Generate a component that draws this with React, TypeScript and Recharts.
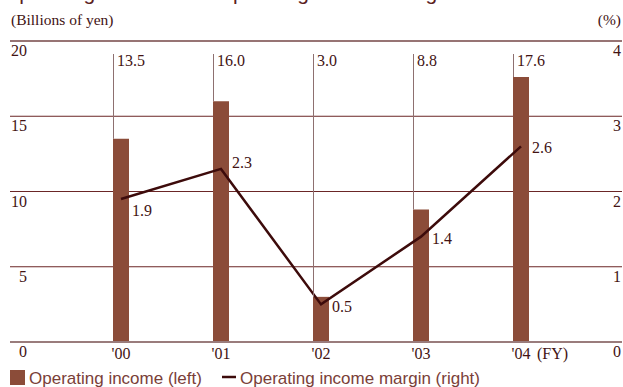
import React from "react";
import { Bar, CartesianGrid, ComposedChart, LabelList, Line, ReferenceLine, XAxis, YAxis } from "recharts";

const years = ["'00", "'01", "'02", "'03", "'04"];
const operatingIncome = [13.5, 16.0, 3.0, 8.8, 17.6];
const incomeMargin = [1.9, 2.3, 0.5, 1.4, 2.6];
const leftTicks = [0, 5, 10, 15, 20];
const rightTicks = [0, 1, 2, 3, 4];

const data = years.map((year, i) => ({ year, income: operatingIncome[i], margin: incomeMargin[i] }));

const W = 623;
const H = 387;
const serif = "'Liberation Serif', 'Times New Roman', serif";
const sans = "'Liberation Sans', Arial, sans-serif";
const ink = "#421313";
const barColor = "#8b4c39";
const lineColor = "#3d0b0b";
const legendInk = "#7a4038";

// vertical nudge for each margin label so it clears the line
const marginLabelDy = [11, -7, 2, 1, 1];

const renderLeftTick = (props: any) => (
  <text key={`l-${props.index}`} x={27} y={props.y + 15} textAnchor="end" fontFamily={serif} fontSize={16} fill={ink}>
    {props.payload.value}
  </text>
);

const renderRightTick = (props: any) => (
  <text key={`r-${props.index}`} x={621} y={props.y + 15} textAnchor="end" fontFamily={serif} fontSize={16} fill={ink}>
    {props.payload.value}
  </text>
);

const renderYearTick = (props: any) => {
  const { x, payload, index } = props;
  return (
    <g key={`x-${index}`}>
      <text x={x} y={359} textAnchor="middle" fontFamily={serif} fontSize={16} fill={ink}>
        {payload.value}
      </text>
      {index === years.length - 1 && (
        <text x={x + 16} y={359} fontFamily={serif} fontSize={16} fill={ink}>
          (FY)
        </text>
      )}
    </g>
  );
};

// leader line from the top row down to the bar, value written beside it
const IncomeLabel = (props: any) => {
  const { x, y, value } = props;
  return (
    <g>
      <line x1={x + 0.5} y1={54} x2={x + 0.5} y2={y} stroke="#8e7070" strokeWidth={1} />
      <text x={x + 4} y={66} fontFamily={serif} fontSize={16} fill={ink}>
        {Number(value).toFixed(1)}
      </text>
    </g>
  );
};

const MarginLabel = (props: any) => {
  const { x, y, value, index } = props;
  return (
    <text x={x + 11} y={y + 6 + marginLabelDy[index]} fontFamily={serif} fontSize={16} fill={ink}>
      {Number(value).toFixed(1)}
    </text>
  );
};

export default function App() {
  return (
    <div style={{ position: "absolute", left: 0, top: 0, width: W, height: H, background: "#fff" }}>
      <ComposedChart width={W} height={H} data={data} margin={{ top: 41, right: 0, bottom: 25, left: 0 }}>
        <CartesianGrid vertical={false} stroke="#6b2626" strokeWidth={1} yAxisId="left" />
        <XAxis
          dataKey="year"
          height={20}
          axisLine={false}
          tickLine={false}
          interval={0}
          padding={{ left: 61, right: 51 }}
          tick={renderYearTick}
        />
        <YAxis
          yAxisId="left"
          width={10}
          domain={[0, 20]}
          ticks={leftTicks}
          interval={0}
          axisLine={false}
          tickLine={false}
          tick={renderLeftTick}
        />
        <YAxis
          yAxisId="right"
          orientation="right"
          width={1}
          domain={[0, 4]}
          ticks={rightTicks}
          interval={0}
          axisLine={false}
          tickLine={false}
          tick={renderRightTick}
        />
        <ReferenceLine yAxisId="left" y={20} stroke="#8e6a6a" strokeWidth={1.5} />
        <ReferenceLine yAxisId="left" y={0} stroke="#9a7c7c" strokeWidth={2} />
        <Bar yAxisId="left" dataKey="income" fill={barColor} barSize={16} isAnimationActive={false}>
          <LabelList dataKey="income" content={<IncomeLabel />} />
        </Bar>
        <Line
          yAxisId="right"
          dataKey="margin"
          type="linear"
          stroke={lineColor}
          strokeWidth={2.5}
          dot={false}
          activeDot={false}
          isAnimationActive={false}
        >
          <LabelList dataKey="margin" content={<MarginLabel />} />
        </Line>
      </ComposedChart>

      <svg width={W} height={H} style={{ position: "absolute", left: 0, top: 0, pointerEvents: "none" }}>
        <text x={3} y={-0.5} fontFamily={sans} fontSize={21} fill="#5a2020">
          Operating Income and Operating Income Margin
        </text>
        <text x={11} y={25} fontFamily={serif} fontSize={15.5} fill={ink}>
          (Billions of yen)
        </text>
        <text x={621} y={25} textAnchor="end" fontFamily={serif} fontSize={15.5} fill={ink}>
          (%)
        </text>

        <rect x={10} y={370} width={15} height={15} fill={barColor} />
        <text x={29} y={384} fontFamily={sans} fontSize={17} fill={legendInk}>
          Operating income (left)
        </text>
        <line x1={222} y1={377} x2={236} y2={377} stroke={lineColor} strokeWidth={2.5} />
        <text x={240} y={384} fontFamily={sans} fontSize={17} fill={legendInk}>
          Operating income margin (right)
        </text>
      </svg>
    </div>
  );
}
